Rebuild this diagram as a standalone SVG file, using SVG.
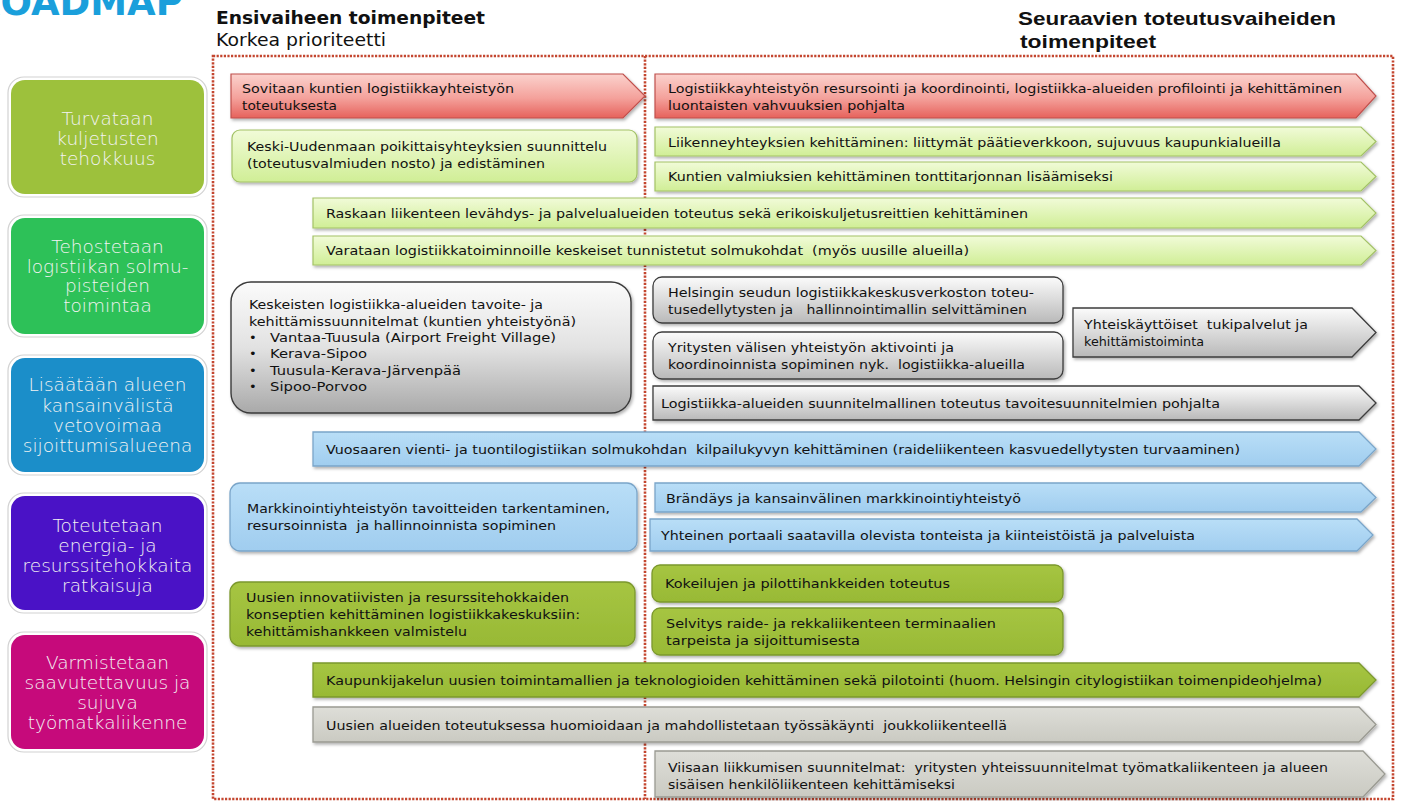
<svg xmlns="http://www.w3.org/2000/svg" width="1402" height="801" viewBox="0 0 1402 801">
<defs>
<style>
.t{font-family:"DejaVu Sans",Verdana,sans-serif;font-size:13px;fill:#111;}
.lab{font-family:"DejaVu Sans",sans-serif;font-weight:300;font-size:18.5px;fill:#f3f3f3;text-anchor:middle;}
.frame{fill:none;stroke:#c4462f;stroke-width:2.6;stroke-dasharray:2.2 1.4;}
.red{fill:url(#gRed);stroke:#c0504d;stroke-width:1.2;}
.lg{fill:url(#gLg);stroke:#a3c266;stroke-width:1.2;}
.gr{fill:url(#gGr);stroke:#3c3c3c;stroke-width:1.3;}
.bl{fill:url(#gBl);stroke:#7aa5c9;stroke-width:1.3;}
.ol{fill:url(#gOl);stroke:#7b982d;stroke-width:1.3;}
.lgr{fill:url(#gLgr);stroke:#9a9a92;stroke-width:1.3;}
.outer{fill:#fff;stroke:#d2d2d2;stroke-width:1.2;}
</style>
<linearGradient id="gRed" x1="0" y1="0" x2="0" y2="1"><stop offset="0" stop-color="#fbd2cd"/><stop offset="0.55" stop-color="#f4a19b"/><stop offset="1" stop-color="#e6625c"/></linearGradient>
<linearGradient id="gLg" x1="0" y1="0" x2="0" y2="1"><stop offset="0" stop-color="#f1fbd8"/><stop offset="1" stop-color="#d0ee96"/></linearGradient>
<linearGradient id="gGr" x1="0" y1="0" x2="0" y2="1"><stop offset="0" stop-color="#fbfbfb"/><stop offset="1" stop-color="#b9b9b9"/></linearGradient>
<linearGradient id="gGr2" x1="0" y1="0" x2="0" y2="1"><stop offset="0" stop-color="#fbfbfb"/><stop offset="0.5" stop-color="#e2e2e2"/><stop offset="1" stop-color="#a9a9a9"/></linearGradient>
<linearGradient id="gBl" x1="0" y1="0" x2="0" y2="1"><stop offset="0" stop-color="#b9def7"/><stop offset="1" stop-color="#a0cdef"/></linearGradient>
<linearGradient id="gOl" x1="0" y1="0" x2="0" y2="1"><stop offset="0" stop-color="#a6c542"/><stop offset="1" stop-color="#98b935"/></linearGradient>
<linearGradient id="gLgr" x1="0" y1="0" x2="0" y2="1"><stop offset="0" stop-color="#deded8"/><stop offset="1" stop-color="#cacac2"/></linearGradient>
<filter id="sh" x="-5%" y="-20%" width="110%" height="150%"><feDropShadow dx="1.5" dy="2" stdDeviation="1.4" flood-color="#000" flood-opacity="0.3"/></filter>
</defs>

<g id="titles">
<text x="-28" y="15" style="font-family:'DejaVu Sans',sans-serif;font-weight:bold;font-size:37px;fill:#1a9fdb;">ROADMAP</text>
<text x="216" y="24" textLength="269" lengthAdjust="spacingAndGlyphs" style="font-family:'DejaVu Sans',sans-serif;font-weight:bold;font-size:17px;fill:#111;">Ensivaiheen toimenpiteet</text>
<text x="216" y="46" textLength="170" lengthAdjust="spacingAndGlyphs" style="font-family:'DejaVu Sans',sans-serif;font-size:17px;fill:#111;">Korkea prioriteetti</text>
<text x="1018" y="25" textLength="318" lengthAdjust="spacingAndGlyphs" style="font-family:'Liberation Sans',Arial,sans-serif;font-weight:bold;font-size:19px;fill:#111;">Seuraavien toteutusvaiheiden</text>
<text x="1020" y="48" textLength="136" lengthAdjust="spacingAndGlyphs" style="font-family:'Liberation Sans',Arial,sans-serif;font-weight:bold;font-size:19px;fill:#111;">toimenpiteet</text>
</g>

<g id="frame">
<rect class="frame" x="213" y="56" width="1180" height="743"/>
<line class="frame" x1="645" y1="56" x2="645" y2="799"/>
</g>

<g id="goal-1">
<rect class="outer" x="8" y="77" width="199" height="120" rx="16"/>
<rect x="11" y="80" width="193" height="114" rx="14" fill="#9dc13c"/>
<text class="lab" x="107.5" y="125">Turvataan</text>
<text class="lab" x="107.5" y="145">kuljetusten</text>
<text class="lab" x="107.5" y="165">tehokkuus</text>
</g>
<g id="goal-2">
<rect class="outer" x="8" y="215" width="199" height="122" rx="16"/>
<rect x="11" y="218" width="193" height="116" rx="14" fill="#2dc158"/>
<text class="lab" x="107.5" y="253">Tehostetaan</text>
<text class="lab" x="107.5" y="273">logistiikan solmu-</text>
<text class="lab" x="107.5" y="292">pisteiden</text>
<text class="lab" x="107.5" y="312">toimintaa</text>
</g>
<g id="goal-3">
<rect class="outer" x="8" y="355" width="199" height="120" rx="16"/>
<rect x="11" y="358" width="193" height="114" rx="14" fill="#1b8ec9"/>
<text class="lab" x="107.5" y="391">Lisäätään alueen</text>
<text class="lab" x="107.5" y="412">kansainvälistä</text>
<text class="lab" x="107.5" y="432">vetovoimaa</text>
<text class="lab" x="107.5" y="452">sijoittumisalueena</text>
</g>
<g id="goal-4">
<rect class="outer" x="8" y="493" width="199" height="120" rx="16"/>
<rect x="11" y="496" width="193" height="114" rx="14" fill="#4a12c6"/>
<text class="lab" x="107.5" y="532">Toteutetaan</text>
<text class="lab" x="107.5" y="552">energia- ja</text>
<text class="lab" x="107.5" y="572">resurssitehokkaita</text>
<text class="lab" x="107.5" y="592">ratkaisuja</text>
</g>
<g id="goal-5">
<rect class="outer" x="8" y="632" width="199" height="120" rx="16"/>
<rect x="11" y="635" width="193" height="114" rx="14" fill="#c60a7b"/>
<text class="lab" x="107.5" y="669">Varmistetaan</text>
<text class="lab" x="107.5" y="689">saavutettavuus ja</text>
<text class="lab" x="107.5" y="709">sujuva</text>
<text class="lab" x="107.5" y="729">työmatkaliikenne</text>
</g>

<g id="a-sovitaan">
<path class="red" filter="url(#sh)" d="M231 74 H623 L645 96 L623 118 H231 Z"/>
<text class="t" x="242" y="93" textLength="272" lengthAdjust="spacingAndGlyphs">Sovitaan kuntien logistiikkayhteistyön</text>
<text class="t" x="242" y="110" textLength="95" lengthAdjust="spacingAndGlyphs">toteutuksesta</text>
</g>
<g id="k-resursointi">
<path class="red" filter="url(#sh)" d="M655 74 H1356 L1376 96 L1356 118 H655 Z"/>
<text class="t" x="668" y="93" textLength="674" lengthAdjust="spacingAndGlyphs">Logistiikkayhteistyön resursointi ja koordinointi, logistiikka-alueiden profilointi ja kehittäminen</text>
<text class="t" x="668" y="110" textLength="237" lengthAdjust="spacingAndGlyphs">luontaisten vahvuuksien pohjalta</text>
</g>
<g id="b-keski-uusimaa">
<rect class="lg" filter="url(#sh)" x="232" y="130" width="405" height="52" rx="8"/>
<text class="t" x="247" y="151" textLength="360" lengthAdjust="spacingAndGlyphs">Keski-Uudenmaan poikittaisyhteyksien suunnittelu</text>
<text class="t" x="247" y="168" textLength="298" lengthAdjust="spacingAndGlyphs">(toteutusvalmiuden nosto) ja edistäminen</text>
</g>
<g id="l-liikenneyhteydet">
<path class="lg" filter="url(#sh)" d="M655 127 H1361 L1376 141.5 L1361 156 H655 Z"/>
<text class="t" x="668" y="147" textLength="613" lengthAdjust="spacingAndGlyphs">Liikenneyhteyksien kehittäminen: liittymät päätieverkkoon, sujuvuus kaupunkialueilla</text>
</g>
<g id="m-tonttitarjonta">
<path class="lg" filter="url(#sh)" d="M655 162 H1361 L1376 176.5 L1361 191 H655 Z"/>
<text class="t" x="668" y="181" textLength="445" lengthAdjust="spacingAndGlyphs">Kuntien valmiuksien kehittäminen tonttitarjonnan lisäämiseksi</text>
</g>
<g id="c-raskas">
<path class="lg" filter="url(#sh)" d="M313 198 H1361 L1376 213 L1361 228 H313 Z"/>
<text class="t" x="326" y="218" textLength="702" lengthAdjust="spacingAndGlyphs">Raskaan liikenteen levähdys- ja palvelualueiden toteutus sekä erikoiskuljetusreittien kehittäminen</text>
</g>
<g id="d-varataan">
<path class="lg" filter="url(#sh)" d="M313 236 H1361 L1376 250.5 L1361 265 H313 Z"/>
<text class="t" x="326" y="255" textLength="643" lengthAdjust="spacingAndGlyphs" xml:space="preserve">Varataan logistiikkatoiminnoille keskeiset tunnistetut solmukohdat  (myös uusille alueilla)</text>
</g>
<g id="e-keskeiset">
<rect filter="url(#sh)" x="231" y="282" width="400" height="131" rx="20" fill="url(#gGr2)" stroke="#3a3a3a" stroke-width="1.4"/>
<text class="t" x="249" y="309" textLength="294" lengthAdjust="spacingAndGlyphs">Keskeisten logistiikka-alueiden tavoite- ja</text>
<text class="t" x="249" y="326" textLength="327" lengthAdjust="spacingAndGlyphs">kehittämissuunnitelmat (kuntien yhteistyönä)</text>
<text class="t" x="249" y="342">•</text>
<text class="t" x="270" y="342" textLength="286" lengthAdjust="spacingAndGlyphs">Vantaa-Tuusula (Airport Freight Village)</text>
<text class="t" x="249" y="358">•</text>
<text class="t" x="270" y="358" textLength="97" lengthAdjust="spacingAndGlyphs">Kerava-Sipoo</text>
<text class="t" x="249" y="375">•</text>
<text class="t" x="270" y="375" textLength="191" lengthAdjust="spacingAndGlyphs">Tuusula-Kerava-Järvenpää</text>
<text class="t" x="249" y="391">•</text>
<text class="t" x="270" y="391" textLength="97" lengthAdjust="spacingAndGlyphs">Sipoo-Porvoo</text>
</g>
<g id="n-helsinki">
<rect class="gr" filter="url(#sh)" x="653" y="277" width="410" height="46" rx="9"/>
<text class="t" x="668" y="297" textLength="366" lengthAdjust="spacingAndGlyphs">Helsingin seudun logistiikkakeskusverkoston toteu-</text>
<text class="t" x="668" y="314" textLength="359" lengthAdjust="spacingAndGlyphs" xml:space="preserve">tusedellytysten ja   hallinnointimallin selvittäminen</text>
</g>
<g id="o-yritykset">
<rect class="gr" filter="url(#sh)" x="653" y="332" width="410" height="47" rx="9"/>
<text class="t" x="668" y="352" textLength="286" lengthAdjust="spacingAndGlyphs">Yritysten välisen yhteistyön aktivointi ja</text>
<text class="t" x="668" y="369" textLength="357" lengthAdjust="spacingAndGlyphs" xml:space="preserve">koordinoinnista sopiminen nyk.  logistiikka-alueilla</text>
</g>
<g id="p-tukipalvelut">
<path class="gr" filter="url(#sh)" d="M1073 308 H1352 L1376 332.5 L1352 357 H1073 Z"/>
<text class="t" x="1084" y="329" textLength="224" lengthAdjust="spacingAndGlyphs" xml:space="preserve">Yhteiskäyttöiset  tukipalvelut ja</text>
<text class="t" x="1084" y="346" textLength="120" lengthAdjust="spacingAndGlyphs">kehittämistoiminta</text>
</g>
<g id="q-toteutus">
<path class="gr" filter="url(#sh)" d="M653 386 H1359 L1376 403 L1359 420 H653 Z"/>
<text class="t" x="661" y="408" textLength="559" lengthAdjust="spacingAndGlyphs">Logistiikka-alueiden suunnitelmallinen toteutus tavoitesuunnitelmien pohjalta</text>
</g>
<g id="f-vuosaari">
<path class="bl" filter="url(#sh)" d="M313 432 H1359 L1376 449 L1359 466 H313 Z"/>
<text class="t" x="326" y="454" textLength="914" lengthAdjust="spacingAndGlyphs" xml:space="preserve">Vuosaaren vienti- ja tuontilogistiikan solmukohdan  kilpailukyvyn kehittäminen (raideliikenteen kasvuedellytysten turvaaminen)</text>
</g>
<g id="g-markkinointi">
<rect class="bl" filter="url(#sh)" x="230" y="483" width="407" height="68" rx="10"/>
<text class="t" x="247" y="513" textLength="363" lengthAdjust="spacingAndGlyphs">Markkinointiyhteistyön tavoitteiden tarkentaminen,</text>
<text class="t" x="247" y="530" textLength="309" lengthAdjust="spacingAndGlyphs" xml:space="preserve">resursoinnista  ja hallinnoinnista sopiminen</text>
</g>
<g id="r-brandays">
<path class="bl" filter="url(#sh)" d="M655 483 H1361 L1376 497.5 L1361 512 H655 Z"/>
<text class="t" x="666" y="503" textLength="355" lengthAdjust="spacingAndGlyphs">Brändäys ja kansainvälinen markkinointiyhteistyö</text>
</g>
<g id="s-portaali">
<path class="bl" filter="url(#sh)" d="M650 519 H1357 L1373 535 L1357 551 H650 Z"/>
<text class="t" x="661" y="540" textLength="534" lengthAdjust="spacingAndGlyphs">Yhteinen portaali saatavilla olevista tonteista ja kiinteistöistä ja palveluista</text>
</g>
<g id="h-innovatiiviset">
<rect class="ol" filter="url(#sh)" x="230" y="582" width="405" height="64" rx="10"/>
<text class="t" x="246" y="602" textLength="323" lengthAdjust="spacingAndGlyphs">Uusien innovatiivisten ja resurssitehokkaiden</text>
<text class="t" x="246" y="619" textLength="334" lengthAdjust="spacingAndGlyphs">konseptien kehittäminen logistiikkakeskuksiin:</text>
<text class="t" x="246" y="636" textLength="221" lengthAdjust="spacingAndGlyphs">kehittämishankkeen valmistelu</text>
</g>
<g id="t-kokeilut">
<rect class="ol" filter="url(#sh)" x="652" y="565" width="411" height="37" rx="8"/>
<text class="t" x="665" y="588" textLength="285" lengthAdjust="spacingAndGlyphs">Kokeilujen ja pilottihankkeiden toteutus</text>
</g>
<g id="u-selvitys">
<rect class="ol" filter="url(#sh)" x="652" y="608" width="411" height="47" rx="8"/>
<text class="t" x="666" y="628" textLength="330" lengthAdjust="spacingAndGlyphs">Selvitys raide- ja rekkaliikenteen terminaalien</text>
<text class="t" x="666" y="645" textLength="194" lengthAdjust="spacingAndGlyphs">tarpeista ja sijoittumisesta</text>
</g>
<g id="i-kaupunkijakelu">
<path class="ol" filter="url(#sh)" d="M313 663 H1359 L1376 680 L1359 697 H313 Z"/>
<text class="t" x="326" y="685" textLength="996" lengthAdjust="spacingAndGlyphs">Kaupunkijakelun uusien toimintamallien ja teknologioiden kehittäminen sekä pilotointi (huom. Helsingin citylogistiikan toimenpideohjelma)</text>
</g>
<g id="j-joukkoliikenne">
<path class="lgr" filter="url(#sh)" d="M313 707 H1359 L1376 724.5 L1359 742 H313 Z"/>
<text class="t" x="326" y="730" textLength="681" lengthAdjust="spacingAndGlyphs" xml:space="preserve">Uusien alueiden toteutuksessa huomioidaan ja mahdollistetaan työssäkäynti  joukkoliikenteellä</text>
</g>
<g id="v-viisas">
<path class="lgr" filter="url(#sh)" d="M655 751 H1363 L1385 774 L1363 797 H655 Z"/>
<text class="t" x="668" y="772" textLength="660" lengthAdjust="spacingAndGlyphs" xml:space="preserve">Viisaan liikkumisen suunnitelmat:  yritysten yhteissuunnitelmat työmatkaliikenteen ja alueen</text>
<text class="t" x="668" y="789" textLength="287" lengthAdjust="spacingAndGlyphs">sisäisen henkilöliikenteen kehittämiseksi</text>
</g>
</svg>
